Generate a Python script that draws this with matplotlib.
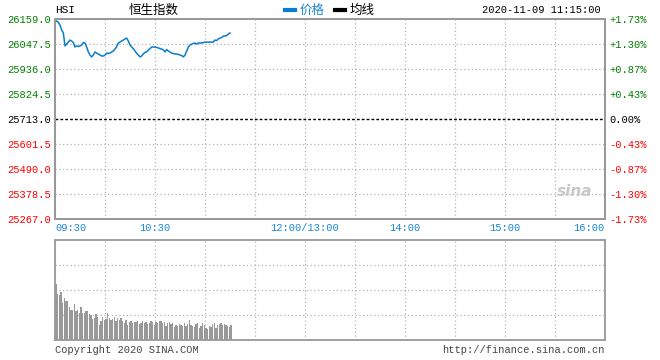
import numpy as np
import matplotlib
matplotlib.use("Agg")
import matplotlib.pyplot as plt
from matplotlib.lines import Line2D

plt.rcParams['font.family'] = ['Liberation Mono', 'Noto Sans CJK SC', 'DejaVu Sans']

# ---------------- data ----------------
symbol = "HSI"
title = "恒生指数"
timestamp = "2020-11-09 11:15:00"
prev_close = 25713.0
y_ticks = [25267.0, 25378.5, 25490.0, 25601.5, 25713.0, 25824.5, 25936.0, 26047.5, 26159.0]
x_tick_minutes = [0, 60, 150, 210, 270, 330]
x_tick_labels = ["09:30", "10:30", "12:00/13:00", "14:00", "15:00", "16:00"]

price = [26147, 26150, 26144, 26132, 26110, 26097, 26039, 26047, 26056, 26065,
         26061, 26054, 26034, 26039, 26036, 26039, 26043, 26054, 26052, 26034,
         26012, 25998, 25990, 25998, 26012, 26007, 26003, 25998, 25994, 25994,
         25998, 26007, 26005, 26007, 26012, 26016, 26025, 26036, 26052, 26056,
         26061, 26065, 26070, 26074, 26061, 26043, 26034, 26027, 26016, 26007,
         25998, 25990, 25994, 26003, 26010, 26012, 26021, 26027, 26034, 26034,
         26034, 26032, 26030, 26027, 26025, 26021, 26012, 26023, 26016, 26012,
         26007, 26005, 26003, 26003, 26001, 25998, 25996, 25990, 25998, 26016,
         26034, 26043, 26047, 26050, 26052, 26047, 26052, 26052, 26052, 26054,
         26056, 26056, 26056, 26056, 26056, 26056, 26065, 26063, 26070, 26074,
         26076, 26083, 26083, 26085, 26092, 26097]

volume = [56, 46, 45, 48, 37, 42, 39, 39, 33, 30,
          30, 36, 29, 30, 27, 33, 27, 27, 29, 29,
          26, 25, 21, 22, 26, 23, 15, 19, 23, 20,
          21, 27, 22, 20, 21, 23, 19, 22, 20, 22,
          19, 17, 20, 15, 18, 19, 17, 18, 18, 19,
          16, 17, 19, 17, 18, 16, 17, 19, 18, 15,
          18, 17, 19, 19, 17, 18, 14, 17, 18, 16,
          17, 13, 15, 14, 16, 15, 14, 17, 14, 16,
          20, 15, 14, 13, 16, 17, 12, 14, 17, 15,
          12, 11, 14, 13, 16, 17, 12, 15, 16, 17,
          15, 16, 15, 14, 13, 15]
volume_max = 100

# ---------------- figure ----------------
W, H = 660, 360
fig = plt.figure(figsize=(W / 100, H / 100), dpi=100)
fig.patch.set_facecolor('white')

def fx(px):
    return px / W

def fy(py):
    return 1 - py / H

green = '#008000'
red = '#ff0000'
blue = '#1a88d8'
spine_c = '#999999'
grid_c = '#b4b4b4'

ax = fig.add_axes([fx(55), fy(219), fx(550), 200 / H])
axv = fig.add_axes([fx(55), fy(340), fx(550), 100 / H])

minutes = np.arange(len(price))
ax.plot(minutes, price, color='#0a7ccc', lw=1.1, zorder=3)
ax.set_xlim(0, 330)
ax.set_ylim(y_ticks[0], y_ticks[-1])

# grid
for m in range(0, 331, 30):
    ax.axvline(m, color=grid_c, lw=0.9, ls=(0, (1, 2)), zorder=1)
    axv.axvline(m, color=grid_c, lw=0.9, ls=(0, (1, 2)), zorder=1)
for v in y_ticks[1:-1]:
    if v == prev_close:
        ax.axhline(v, color='black', lw=1.0, ls=(0, (2, 1.5)), zorder=2)
    else:
        ax.axhline(v, color=grid_c, lw=0.9, ls=(0, (1, 2)), zorder=1)

ax.set_yticks(y_ticks)
ax.set_yticklabels([f"{v:.1f}" for v in y_ticks])
for lab, v in zip(ax.get_yticklabels(), y_ticks):
    lab.set_color(green if v > prev_close else (red if v < prev_close else 'black'))
    lab.set_fontsize(7.5)
ax.tick_params(axis='y', length=0, pad=3)

axr = ax.twinx()
axr.set_ylim(ax.get_ylim())
axr.set_yticks(y_ticks)
pct = [(v - prev_close) / prev_close * 100 for v in y_ticks]
axr.set_yticklabels([("+" if p > 0.001 else "") + f"{p:.2f}%" if abs(p) > 0.001 else "0.00%" for p in pct])
for lab, p in zip(axr.get_yticklabels(), pct):
    lab.set_color(green if p > 0.001 else (red if p < -0.001 else 'black'))
    lab.set_fontsize(7.5)
axr.tick_params(axis='y', length=0, pad=3)

ax.set_xticks(x_tick_minutes)
ax.set_xticklabels(x_tick_labels)
ax.tick_params(axis='x', length=0, pad=3, labelsize=7.5, labelcolor=blue)
xl = ax.get_xticklabels()
xl[0].set_horizontalalignment('left')
xl[-1].set_horizontalalignment('right')

for a in (ax, axr, axv):
    for s in a.spines.values():
        s.set_color(spine_c)
        s.set_linewidth(1.3)

# volume
axv.bar(minutes + 0.5, volume, width=0.8, color='#999999', lw=0, zorder=3)
axv.set_xlim(0, 330)
axv.set_ylim(0, volume_max)
for v in (25, 50, 75):
    axv.axhline(v, color=grid_c, lw=0.9, ls=(0, (1, 2)), zorder=1)
axv.set_xticks([])
axv.set_yticks([])

# header
fig.text(fx(55), fy(10), symbol, fontsize=8, va='center', ha='left', color='black')
fig.text(fx(154), fy(10), title, fontsize=9, va='center', ha='center', color='black',
         family=['Noto Sans CJK SC', 'DejaVu Sans'])
fig.add_artist(Line2D([fx(285), fx(295)], [fy(10), fy(10)], transform=fig.transFigure,
                      color='#0a7ccc', lw=3))
fig.text(fx(300), fy(10), "价格", fontsize=9, va='center', ha='left', color=blue,
         family=['Noto Sans CJK SC', 'DejaVu Sans'])
fig.add_artist(Line2D([fx(335), fx(345)], [fy(10), fy(10)], transform=fig.transFigure,
                      color='black', lw=3))
fig.text(fx(350), fy(10), "均线", fontsize=9, va='center', ha='left', color='black',
         family=['Noto Sans CJK SC', 'DejaVu Sans'])
fig.text(fx(601), fy(10), timestamp, fontsize=7.5, va='center', ha='right', color='black')

# watermark
fig.text(fx(575), fy(192), "sina", fontsize=11, style='italic', weight='bold',
         color='#c8c8c8', ha='center', va='center', family='DejaVu Sans')

# footer
fig.text(fx(55), fy(350), "Copyright 2020 SINA.COM", fontsize=7.5, va='center', ha='left', color='#444444')
fig.text(fx(605), fy(350), "http://finance.sina.com.cn", fontsize=7.5, va='center', ha='right', color='#444444')

fig.savefig("out.png", dpi=100)
